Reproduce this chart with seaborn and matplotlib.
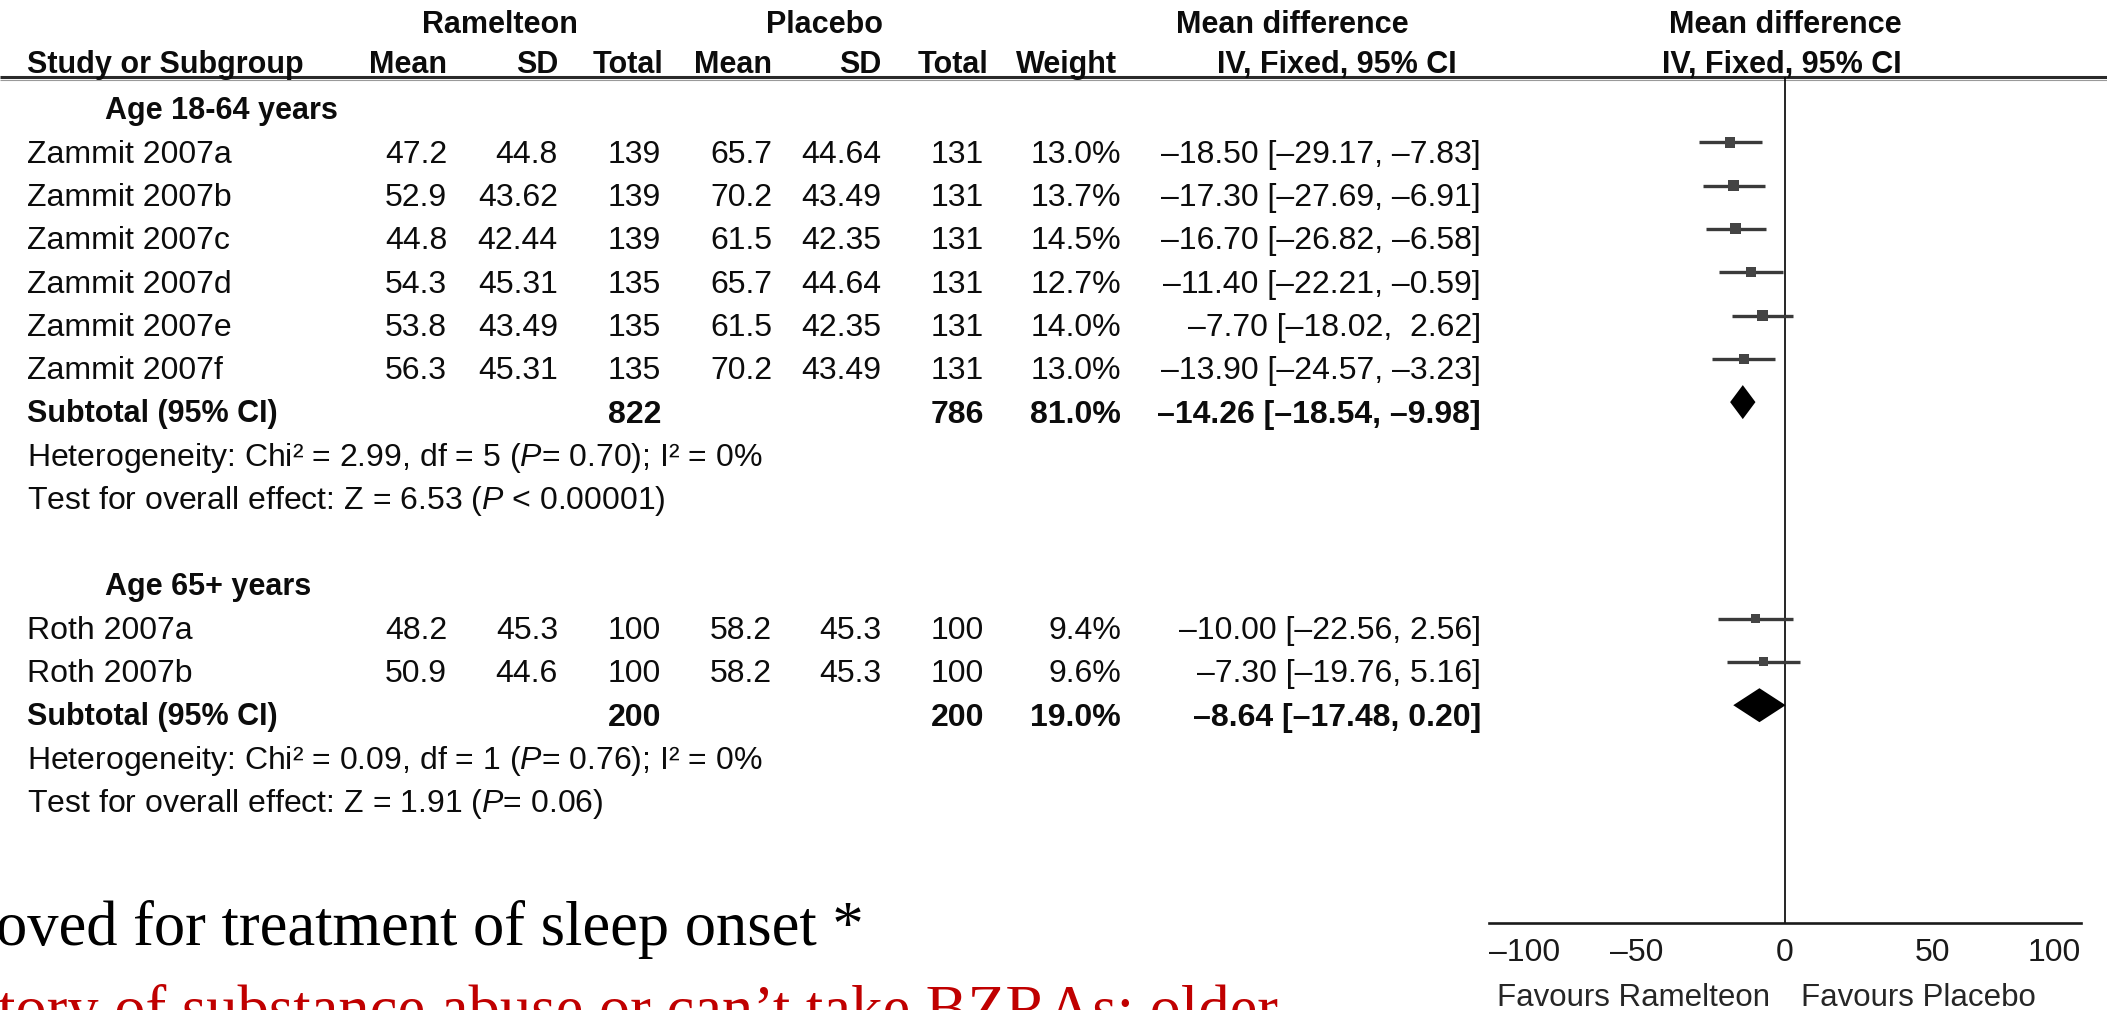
import matplotlib
matplotlib.use("Agg")
import matplotlib.pyplot as plt
import numpy as np
import pandas as pd
import seaborn as sns

# ---------------- data ----------------
group_labels = ["Age 18-64 years", "Age 65+ years"]

young_studies = ["Zammit 2007a", "Zammit 2007b", "Zammit 2007c",
                 "Zammit 2007d", "Zammit 2007e", "Zammit 2007f"]
young_ram_mean = [47.2, 52.9, 44.8, 54.3, 53.8, 56.3]
young_ram_sd = [44.8, 43.62, 42.44, 45.31, 43.49, 45.31]
young_ram_n = [139, 139, 139, 135, 135, 135]
young_pl_mean = [65.7, 70.2, 61.5, 65.7, 61.5, 70.2]
young_pl_sd = [44.64, 43.49, 42.35, 44.64, 42.35, 43.49]
young_pl_n = [131, 131, 131, 131, 131, 131]
young_weight = [13.0, 13.7, 14.5, 12.7, 14.0, 13.0]
young_md = [-18.50, -17.30, -16.70, -11.40, -7.70, -13.90]
young_lo = [-29.17, -27.69, -26.82, -22.21, -18.02, -24.57]
young_hi = [-7.83, -6.91, -6.58, -0.59, 2.62, -3.23]

old_studies = ["Roth 2007a", "Roth 2007b"]
old_ram_mean = [48.2, 50.9]
old_ram_sd = [45.3, 44.6]
old_ram_n = [100, 100]
old_pl_mean = [58.2, 58.2]
old_pl_sd = [45.3, 45.3]
old_pl_n = [100, 100]
old_weight = [9.4, 9.6]
old_md = [-10.00, -7.30]
old_lo = [-22.56, -19.76]
old_hi = [2.56, 5.16]

subtotal_ram_n = [822, 200]
subtotal_pl_n = [786, 200]
subtotal_weight = [81.0, 19.0]
subtotal_md = [-14.26, -8.64]
subtotal_lo = [-18.54, -17.48]
subtotal_hi = [-9.98, 0.20]

heterogeneity_text = [
    "Heterogeneity: Chi² = 2.99, df = 5 ($\\mathit{P}$= 0.70); I² = 0%",
    "Heterogeneity: Chi² = 0.09, df = 1 ($\\mathit{P}$= 0.76); I² = 0%",
]
overall_text = [
    "Test for overall effect: Z = 6.53 ($\\mathit{P}$ < 0.00001)",
    "Test for overall effect: Z = 1.91 ($\\mathit{P}$= 0.06)",
]

axis_ticks = [-100, -50, 0, 50, 100]
favours_labels = ["Favours Ramelteon", "Favours Placebo"]

slide_line1 = "oved for treatment of sleep onset *"
slide_line2 = "tory of substance abuse or can\u2019t take BZRAs; older"

# ---------------- layout (pixel units, origin top-left) ----------------
W, H = 2107, 1010
ROW0, DY = 108, 43.3
GROUP_START = [0, 11]
HEADER1_Y, HEADER2_Y, RULE_Y = 22, 62, 77
AXIS_Y = 923
PLOT_X0, PLOT_X1 = 1489, 2081
MARK_OFF = -9

COL_NAME = 27
COL_GROUP = 105
COL_RAM_MEAN, COL_RAM_SD, COL_RAM_N = 447, 558, 661
COL_PL_MEAN, COL_PL_SD, COL_PL_N = 772, 881, 984
COL_WEIGHT, COL_CI = 1121, 1481

FS = 23
FS_HEAD = 22
INK = "#0c0c0c"
MARK = "#3a3a3a"

sns.set_theme(style="white")
plt.rcParams["font.family"] = ["Liberation Sans", "DejaVu Sans"]
plt.rcParams["mathtext.fontset"] = "custom"
plt.rcParams["mathtext.rm"] = "Liberation Sans"
plt.rcParams["mathtext.it"] = "Liberation Sans:italic"
plt.rcParams["mathtext.bf"] = "Liberation Sans:bold"
plt.rcParams["axes.unicode_minus"] = True

fig = plt.figure(figsize=(W / 100, H / 100), dpi=100)
fig.patch.set_facecolor("white")

bg = fig.add_axes([0, 0, 1, 1])
bg.set_xlim(0, W)
bg.set_ylim(H, 0)
bg.axis("off")


def num(v):
    return f"{v:g}".replace("-", "\u2013")


def two(v):
    return f"{v:.2f}".replace("-", "\u2013")


def ci_text(md, lo, hi, width=0):
    h = two(hi).rjust(width)
    return f"{two(md)} [{two(lo)}, {h}]"


def put(x, y, s, ha="left", bold=False, size=FS, color=INK, **kw):
    # y is the visual centre of the capitals; convert to a baseline
    base = y + 0.36 * size * 100 / 72
    bg.text(x, base, s, ha=ha, va="baseline", fontsize=size,
            fontweight="bold" if bold else "normal", color=color, **kw)


# header
put(500, HEADER1_Y, "Ramelteon", ha="center", bold=True, size=FS_HEAD)
put(825, HEADER1_Y, "Placebo", ha="center", bold=True, size=FS_HEAD)
put(1292, HEADER1_Y, "Mean difference", ha="center", bold=True, size=FS_HEAD)
put(1785, HEADER1_Y, "Mean difference", ha="center", bold=True, size=FS_HEAD)

put(COL_NAME, HEADER2_Y, "Study or Subgroup", bold=True, size=FS_HEAD)
for x, s in [(COL_RAM_MEAN, "Mean"), (COL_RAM_SD, "SD"), (COL_RAM_N + 2, "Total"),
             (COL_PL_MEAN, "Mean"), (COL_PL_SD, "SD"), (COL_PL_N + 4, "Total"),
             (COL_WEIGHT - 4, "Weight")]:
    put(x, HEADER2_Y, s, ha="right", bold=True, size=FS_HEAD)
put(1337, HEADER2_Y, "IV, Fixed, 95% CI", ha="center", bold=True, size=FS_HEAD)
put(1782, HEADER2_Y, "IV, Fixed, 95% CI", ha="center", bold=True, size=FS_HEAD)

bg.plot([0, W], [RULE_Y, RULE_Y], color="#2a2a2a", lw=2.2, solid_capstyle="butt")
bg.plot([0, W], [RULE_Y + 2.5, RULE_Y + 2.5], color="#9a9a9a", lw=0.8,
        solid_capstyle="butt")

groups = [
    (young_studies, young_ram_mean, young_ram_sd, young_ram_n, young_pl_mean,
     young_pl_sd, young_pl_n, young_weight, young_md, young_lo, young_hi),
    (old_studies, old_ram_mean, old_ram_sd, old_ram_n, old_pl_mean,
     old_pl_sd, old_pl_n, old_weight, old_md, old_lo, old_hi),
]

study_rows = []
subtotal_rows = []
for g, (names, rm, rsd, rn, pm, psd, pn, wt, md, lo, hi) in enumerate(groups):
    start = GROUP_START[g]
    put(COL_GROUP, ROW0 + start * DY, group_labels[g], bold=True, size=FS_HEAD)
    hw = max(len(two(v)) for v in hi)
    for i in range(len(names)):
        y = ROW0 + (start + 1 + i) * DY
        put(COL_NAME, y, names[i])
        put(COL_RAM_MEAN, y, num(rm[i]), ha="right")
        put(COL_RAM_SD, y, num(rsd[i]), ha="right")
        put(COL_RAM_N, y, str(rn[i]), ha="right")
        put(COL_PL_MEAN, y, num(pm[i]), ha="right")
        put(COL_PL_SD, y, num(psd[i]), ha="right")
        put(COL_PL_N, y, str(pn[i]), ha="right")
        put(COL_WEIGHT, y, f"{wt[i]:.1f}%", ha="right")
        put(COL_CI, y, ci_text(md[i], lo[i], hi[i], hw), ha="right")
        study_rows.append(dict(y=y + MARK_OFF, md=md[i], lo=lo[i], hi=hi[i], weight=wt[i]))
    ys = ROW0 + (start + 1 + len(names)) * DY
    put(COL_NAME, ys, "Subtotal (95% CI)", bold=True, size=FS_HEAD)
    put(COL_RAM_N, ys, str(subtotal_ram_n[g]), ha="right", bold=True)
    put(COL_PL_N, ys, str(subtotal_pl_n[g]), ha="right", bold=True)
    put(COL_WEIGHT, ys, f"{subtotal_weight[g]:.1f}%", ha="right", bold=True)
    put(COL_CI, ys, ci_text(subtotal_md[g], subtotal_lo[g], subtotal_hi[g]),
        ha="right", bold=True)
    subtotal_rows.append(dict(y=ys + MARK_OFF, md=subtotal_md[g],
                              lo=subtotal_lo[g], hi=subtotal_hi[g]))
    put(COL_NAME, ys + DY, heterogeneity_text[g])
    put(COL_NAME, ys + 2 * DY, overall_text[g])

studies_df = pd.DataFrame(study_rows)

# ---------------- forest panel ----------------
fa = fig.add_axes([PLOT_X0 / W, (H - AXIS_Y) / H,
                   (PLOT_X1 - PLOT_X0) / W, (AXIS_Y - RULE_Y) / H])
fa.patch.set_alpha(0)
fa.set_xlim(axis_ticks[0], axis_ticks[-1])
fa.set_ylim(AXIS_Y, RULE_Y)

fa.axvline(0, color="black", lw=1.2, zorder=1)
fa.hlines(studies_df["y"], studies_df["lo"], studies_df["hi"],
          color=MARK, lw=2.4, zorder=2)
sns.scatterplot(data=studies_df, x="md", y="y", size="weight",
                sizes=(40, 66), size_norm=(9, 15), marker="s",
                color="#444444", edgecolor="#444444", linewidth=0, legend=False,
                ax=fa, zorder=3)
for r in subtotal_rows:
    half = 17
    fa.fill([r["lo"], r["md"], r["hi"], r["md"]],
            [r["y"], r["y"] - half, r["y"], r["y"] + half],
            color="black", lw=0, zorder=3)

for side in ["left", "right", "top"]:
    fa.spines[side].set_visible(False)
fa.spines["bottom"].set_color("#1a1a1a")
fa.spines["bottom"].set_linewidth(1.9)
fa.set_yticks([])
fa.set_xticks(axis_ticks)
fa.set_xticklabels([str(t).replace("-", "\u2013") for t in axis_ticks])
fa.tick_params(axis="x", direction="inout", length=15, width=1.3,
               pad=3, labelsize=FS, colors="#1a1a1a")
labels = fa.get_xticklabels()
labels[0].set_ha("left")
labels[-1].set_ha("right")
fa.set_xlabel("")
fa.set_ylabel("")
fa.grid(False)

put(1770, 995, favours_labels[0], ha="right", size=22.5, color="#262626")
put(1801, 995, favours_labels[1], ha="left", size=22.5, color="#262626")

# ---------------- slide text over the lower left ----------------
bg.text(-4, 945, slide_line1, ha="left", va="baseline", fontsize=45,
        family="Liberation Serif", color="black")
bg.text(-2, 1029, slide_line2, ha="left", va="baseline", fontsize=45,
        family="Liberation Serif", color="#c00000")

fig.savefig("out.png", dpi=100, facecolor="white")
